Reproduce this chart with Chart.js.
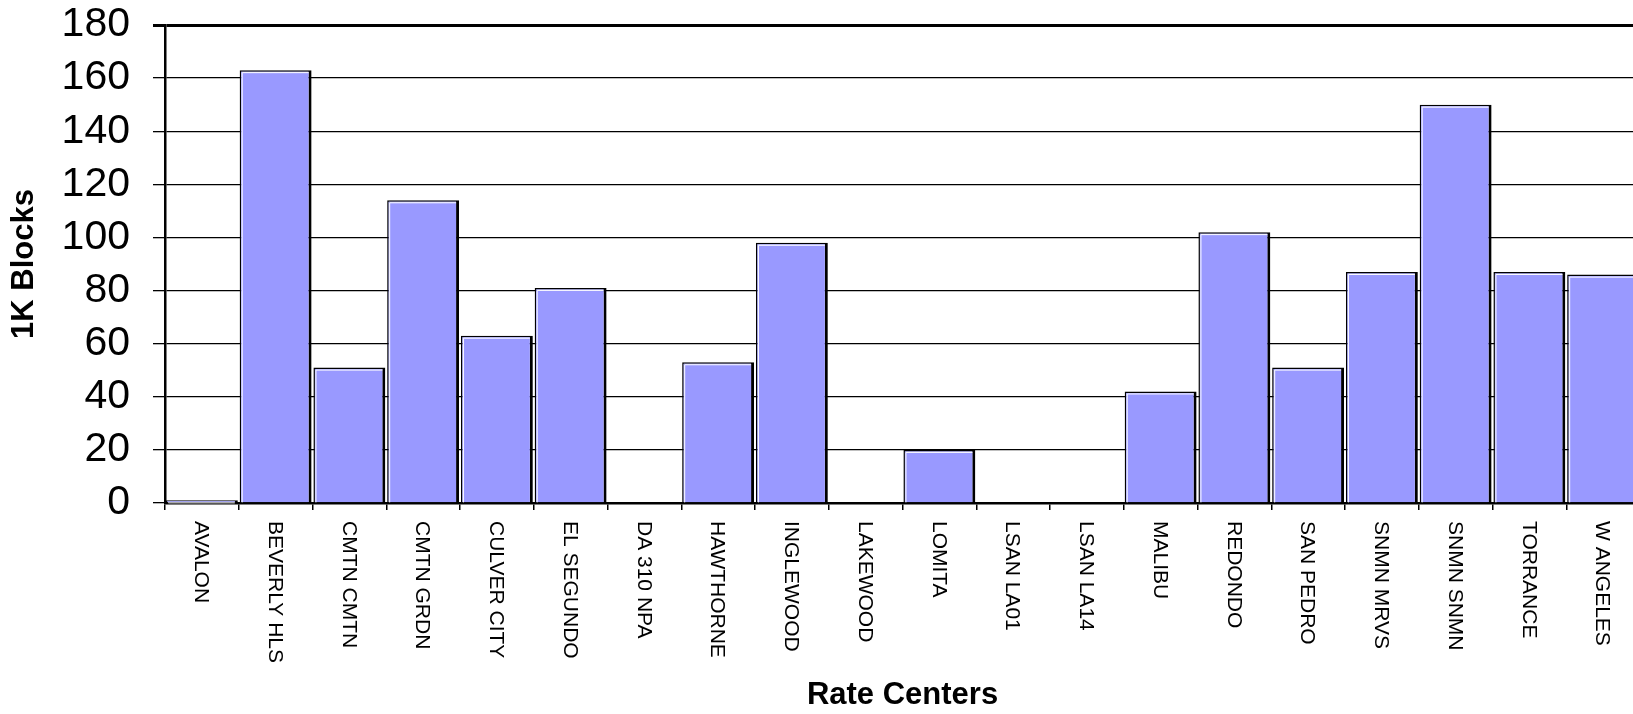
<!DOCTYPE html>
<html><head><meta charset="utf-8">
<script src="https://cdn.jsdelivr.net/npm/chart.js@4/dist/chart.umd.min.js"></script>
<style>
html,body{margin:0;padding:0;background:#fff;overflow:hidden;}
#wrap{width:1640px;height:714px;position:relative;}
</style></head><body>
<div id="wrap"><canvas id="c"></canvas></div>
<script>
const categories = ['AVALON','BEVERLY HLS','CMTN CMTN','CMTN GRDN','CULVER CITY','EL SEGUNDO','DA 310 NPA','HAWTHORNE','INGLEWOOD','LAKEWOOD','LOMITA','LSAN LA01','LSAN LA14','MALIBU','REDONDO','SAN PEDRO','SNMN MRVS','SNMN SNMN','TORRANCE','W ANGELES'];
const blocks = [1,163,51,114,63,81,0,53,98,0,20,0,0,42,102,51,87,150,87,86];
const yTicks = [0,20,40,60,80,100,120,140,160,180];
const xTitle = 'Rate Centers';
const yTitle = '1K Blocks';

const FONT = '"Liberation Sans", Arial, sans-serif';

const xLabelPlugin = {
  id: 'xlabels',
  afterDraw(chart) {
    const s = chart.scales.x, ctx = chart.ctx;
    ctx.save();
    ctx.font = '21px ' + FONT;
    ctx.fillStyle = '#000';
    ctx.textAlign = 'left';
    ctx.textBaseline = 'middle';
    categories.forEach((c, i) => {
      const x = s.getPixelForValue(i);
      ctx.save();
      ctx.translate(x - 1, s.top + 18);
      ctx.rotate(Math.PI / 2);
      ctx.fillText(c, 0, 0);
      ctx.restore();
    });
    ctx.restore();
  }
};

const barHighlight = {
  id: 'barHighlight',
  afterDatasetsDraw(chart) {
    const ctx = chart.ctx;
    const meta = chart.getDatasetMeta(0);
    ctx.save();
    ctx.strokeStyle = '#fff';
    ctx.lineWidth = 1;
    meta.data.forEach((el, i) => {
      if (!blocks[i]) return;
      const p = el.getProps(['x', 'y', 'base', 'width'], true);
      const l = p.x - p.width / 2, r = p.x + p.width / 2;
      ctx.beginPath();
      ctx.moveTo(l + 2.5, p.base);
      ctx.lineTo(l + 2.5, p.y + 2.5);
      ctx.lineTo(r - 3, p.y + 2.5);
      ctx.stroke();
    });
    ctx.restore();
  }
};

new Chart(document.getElementById('c'), {
  type: 'bar',
  data: {
    labels: categories,
    datasets: [{
      data: blocks,
      backgroundColor: '#9999FF',
      borderColor: '#000',
      borderWidth: {top: 1.5, left: 1.5, right: 3, bottom: 0},
      borderSkipped: 'start',
      barPercentage: 0.975,
      categoryPercentage: 1.0
    }]
  },
  options: {
    responsive: true,
    maintainAspectRatio: false,
    animation: false,
    devicePixelRatio: 1,
    layout: {padding: {top: 25, left: 0, right: 0, bottom: 0}},
    plugins: {legend: {display: false}, tooltip: {enabled: false}},
    scales: {
      x: {
        type: 'category',
        offset: true,
        z: 1,
        grid: {display: true, drawOnChartArea: false, drawTicks: true, tickLength: 7, color: '#000', lineWidth: 1.5, offset: true},
        border: {display: true, color: '#000', width: 2.5},
        ticks: {display: false},
        title: {display: true, text: xTitle, color: '#000', font: {family: FONT, size: 31, weight: 'bold'}, padding: {top: 0, bottom: 0}},
        afterFit(s) { s.height = 211; s.paddingLeft = 0; s.paddingRight = 0; }
      },
      y: {
        min: 0, max: 180,
        afterBuildTicks(s) { s.ticks = yTicks.map(v => ({value: v})); },
        ticks: {color: '#000', font: {family: FONT, size: 41}, padding: 23, autoSkip: false},
        grid: {color: '#000', lineWidth: ctx => (ctx.tick && ctx.tick.value === 180) ? 3 : 1.3, tickLength: 12, drawTicks: true},
        border: {display: true, color: '#000', width: 2.5},
        title: {display: true, text: yTitle, color: '#000', font: {family: FONT, size: 31, weight: 'bold'}, padding: {top: 6, bottom: 0}},
        afterFit(s) { s.width = 165; s.paddingTop = 0; s.paddingBottom = 0; }
      }
    }
  },
  plugins: [xLabelPlugin, barHighlight]
});
</script>
</body></html>
